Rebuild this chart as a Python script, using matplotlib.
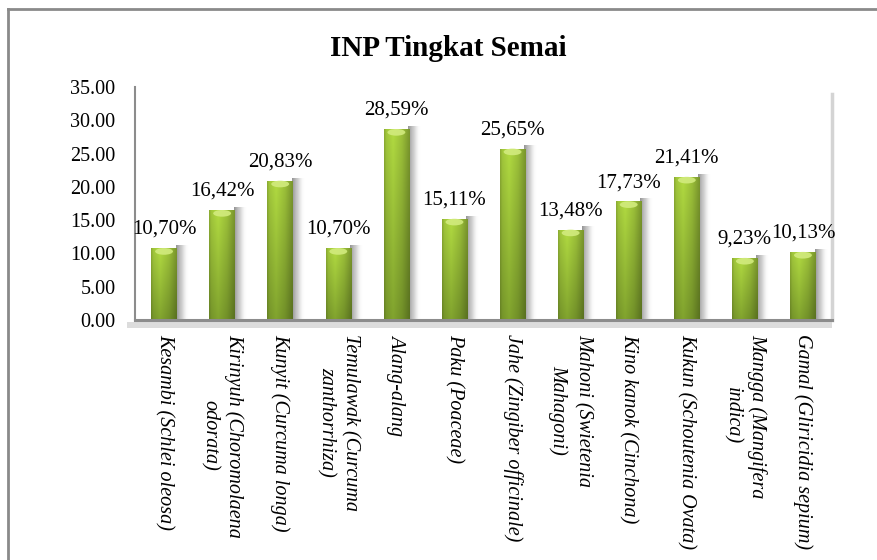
import numpy as np
import matplotlib
matplotlib.use("Agg")
import matplotlib.pyplot as plt
from matplotlib.colors import LinearSegmentedColormap, to_rgb
from matplotlib.patches import Rectangle, Ellipse
from matplotlib.lines import Line2D

plt.rcParams['font.family'] = ['Liberation Serif', 'DejaVu Serif']

# data
jenis = ["Kesambi (Schlei oleosa)", "Kirinyuh (Choromolaena\nodorata)",
         "Kunyit (Curcuma longa)", "Temulawak (Curcuma\nzanthorrhiza)",
         "Alang-alang", "Paku (Poaceae)", "Jahe (Zingiber officinale)",
         "Mahoni (Swietenia\nMahagoni)", "Kino kanok (Cinchona)",
         "Kukun (Schoutenia Ovata)", "Mangga (Mangifera\nindica)",
         "Gamal (Gliricidia sepium)"]
inp = [10.70, 16.42, 20.83, 10.70, 28.59, 15.11, 25.65, 13.48, 17.73, 21.41, 9.23, 10.13]
y_ticks = [0, 5, 10, 15, 20, 25, 30, 35]

fig = plt.figure(figsize=(8.77, 5.6), dpi=100)
ax = fig.add_axes([135/877, 1-320/560, 697/877, 233/560])

# textura de la barra: degradado horizontal y vertical
u = np.linspace(0, 1, 48)
perfil = np.interp(u, [0, 0.08, 0.35, 0.7, 1], [0.82, 0.95, 1.05, 0.92, 0.72])
arriba = np.array(to_rgb("#a9d03e"))
abajo = np.array(to_rgb("#7b9c2c"))
t = np.linspace(0, 1, 64).reshape(-1, 1, 1)
base = arriba * (1 - t) + abajo * t
textura = np.clip(base * perfil.reshape(1, -1, 1), 0, 1)

grad = np.linspace(0, 1, 64).reshape(1, -1)
cmap_sombra = LinearSegmentedColormap.from_list(
    "sombra", [(0.5, 0.5, 0.5, 0.85), (0.72, 0.72, 0.72, 0.6), (1, 1, 1, 0)])

ancho = 0.44
x = np.arange(len(jenis))
for xi, v in zip(x, inp):
    # sombra a la derecha
    ax.imshow(grad, cmap=cmap_sombra, aspect='auto', interpolation='bilinear',
              extent=(xi + ancho/2 - 0.02, xi + ancho/2 + 0.2, 0, v + 0.5), zorder=1)
    ax.imshow(textura, aspect='auto', interpolation='bilinear',
              extent=(xi - ancho/2, xi + ancho/2, 0, v), zorder=2)
    # brillo superior
    ax.add_patch(Ellipse((xi, v - 0.4), ancho*0.7, 1.0, color="#d2eb7e",
                         alpha=0.9, zorder=3, lw=0))
    ax.annotate(f"{v:.2f}%".replace(".", ","), (xi, v), xytext=(0, 7),
                textcoords="offset points", ha="center", va="bottom", fontsize=15)

ax.set_xlim(-0.5, len(jenis) - 0.5)
ax.set_ylim(0, 35)
ax.set_yticks(y_ticks)
ax.set_yticklabels([f"{t:.2f}" for t in y_ticks], fontsize=14.5)
ax.tick_params(axis='y', length=0, pad=14)
ax.set_xticks(x)
ax.set_xticklabels(jenis, rotation=-90, ha="center", va="top", fontsize=14.5,
                   style="italic", multialignment="center", linespacing=1.35)
ax.tick_params(axis='x', length=0, pad=10)

for s in ["top", "right"]:
    ax.spines[s].set_visible(False)
ax.spines["left"].set_color("#8c8c8c")
ax.spines["left"].set_linewidth(1.5)
ax.spines["bottom"].set_color("#8c8c8c")
ax.spines["bottom"].set_linewidth(2.2)

# sombra del piso y pared derecha
ax.add_patch(Rectangle((-0.012, -0.035), 1.012, 0.028, transform=ax.transAxes,
                       color="#dcdcdc", lw=0, clip_on=False, zorder=0))
ax.add_line(Line2D([1, 1], [0, 34/35], transform=ax.transAxes, color="#d4d4d4",
                   lw=2.5, clip_on=False))

# título
fig.text(448/877, 1-48/560, "INP Tingkat Semai", ha="center", va="center",
         fontsize=21, fontweight="bold")

# marco exterior
fig.add_artist(Line2D([8/877, 8/877], [0, 1-9/560], color="#8a8a8a", lw=2))
fig.add_artist(Line2D([8/877, 1], [1-9/560, 1-9/560], color="#8a8a8a", lw=2))

fig.savefig("out.png", dpi=100, facecolor="white")
